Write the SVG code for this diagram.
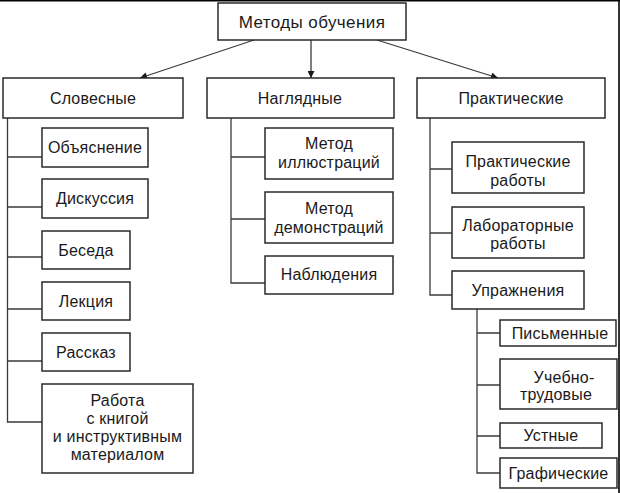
<svg xmlns="http://www.w3.org/2000/svg" width="620" height="493" viewBox="0 0 620 493">
<style>
.box{fill:#fff;stroke:#2a2a2a;stroke-width:1.5}
.t{font-family:"Liberation Sans",Arial,sans-serif;font-size:16px;fill:#1a1a1a;text-anchor:middle;letter-spacing:0.2px}
.top{font-size:17px;letter-spacing:0.4px}
.c{fill:none;stroke:#3a3a3a;stroke-width:1.3}
.frame{stroke:#000;stroke-width:1.6}
</style>
<defs>
<marker id="ah" viewBox="0 0 10 10" refX="10" refY="5" markerWidth="9" markerHeight="7" markerUnits="userSpaceOnUse" orient="auto">
<path d="M0,0 L10,5 L0,10 Z" fill="#1a1a1a"/>
</marker>
</defs>
<rect width="620" height="493" fill="#fff"/>
<line class="frame" x1="0" y1="0.8" x2="620" y2="0.8"/>
<line class="frame" x1="619" y1="0" x2="619" y2="493"/>

<g id="connectors">
<line class="c" x1="254" y1="40" x2="140" y2="78" marker-end="url(#ah)"/>
<line class="c" x1="311" y1="40" x2="311" y2="78" marker-end="url(#ah)"/>
<line class="c" x1="377" y1="40" x2="498" y2="78" marker-end="url(#ah)"/>
<path class="c" d="M7.5,118 V422 H42 M7.5,157 H42 M7.5,207 H42 M7.5,257 H42 M7.5,309 H42 M7.5,361 H42"/>
<path class="c" d="M231,118 V283 H265 M231,157 H265 M231,219 H265"/>
<path class="c" d="M430,118 V295 H452 M430,169 H452 M430,233 H452"/>
<path class="c" d="M477,309 V473 H500 M477,333 H500 M477,385 H500 M477,436 H500"/>
</g>

<g id="n-root"><rect class="box" x="218" y="3" width="188" height="37"/><text class="t top" x="312" y="27.5">Методы обучения</text></g>

<g id="n-slovesnye"><rect class="box" x="3" y="78" width="180" height="40"/><text class="t" x="93" y="104">Словесные</text></g>
<g id="n-nagljadnye"><rect class="box" x="207" y="78" width="187" height="40"/><text class="t" x="300" y="104">Наглядные</text></g>
<g id="n-prakticheskie"><rect class="box" x="417" y="78" width="188" height="40"/><text class="t" x="511" y="104">Практические</text></g>

<g id="n-objasnenie"><rect class="box" x="42" y="128" width="106" height="39"/><text class="t" x="95" y="153">Объяснение</text></g>
<g id="n-diskussija"><rect class="box" x="42" y="179" width="106" height="39"/><text class="t" x="95" y="204">Дискуссия</text></g>
<g id="n-beseda"><rect class="box" x="42" y="231" width="88" height="38"/><text class="t" x="86" y="255.5">Беседа</text></g>
<g id="n-lekcija"><rect class="box" x="42" y="282" width="88" height="38"/><text class="t" x="86" y="306.5">Лекция</text></g>
<g id="n-rasskaz"><rect class="box" x="42" y="333" width="88" height="38"/><text class="t" x="86" y="357.5">Рассказ</text></g>
<g id="n-rabota"><rect class="box" x="42" y="384" width="151" height="89"/>
<text class="t" x="117.5" y="406">Работа</text>
<text class="t" x="117.5" y="424">с книгой</text>
<text class="t" x="117.5" y="442">и инструктивным</text>
<text class="t" x="117.5" y="460">материалом</text></g>

<g id="n-illjustr"><rect class="box" x="265" y="128" width="128" height="51"/>
<text class="t" x="329" y="149">Метод</text><text class="t" x="329" y="167.5">иллюстраций</text></g>
<g id="n-demonstr"><rect class="box" x="265" y="192" width="128" height="51"/>
<text class="t" x="329" y="214">Метод</text><text class="t" x="329" y="232.5">демонстраций</text></g>
<g id="n-nabljudenija"><rect class="box" x="265" y="256" width="128" height="38"/><text class="t" x="329" y="280">Наблюдения</text></g>

<g id="n-prakt-raboty"><rect class="box" x="452" y="142" width="132" height="51"/>
<text class="t" x="518" y="167">Практические</text><text class="t" x="518" y="185.5">работы</text></g>
<g id="n-lab-raboty"><rect class="box" x="452" y="207" width="132" height="51"/>
<text class="t" x="518" y="230.5">Лабораторные</text><text class="t" x="518" y="249">работы</text></g>
<g id="n-uprazhnenija"><rect class="box" x="452" y="271" width="132" height="38"/><text class="t" x="518" y="295.5">Упражнения</text></g>

<g id="n-pismennye"><rect class="box" x="500" y="320" width="116" height="26"/><text class="t" x="560" y="338.5">Письменные</text></g>
<g id="n-uchebno"><rect class="box" x="500" y="359" width="117" height="50"/>
<text class="t" x="564" y="383">Учебно-</text><text class="t" x="556" y="400">трудовые</text></g>
<g id="n-ustnye"><rect class="box" x="500" y="423" width="102" height="25"/><text class="t" x="551" y="441">Устные</text></g>
<g id="n-graficheskie"><rect class="box" x="500" y="458" width="117" height="30"/><text class="t" x="558.5" y="478.5">Графические</text></g>
</svg>
